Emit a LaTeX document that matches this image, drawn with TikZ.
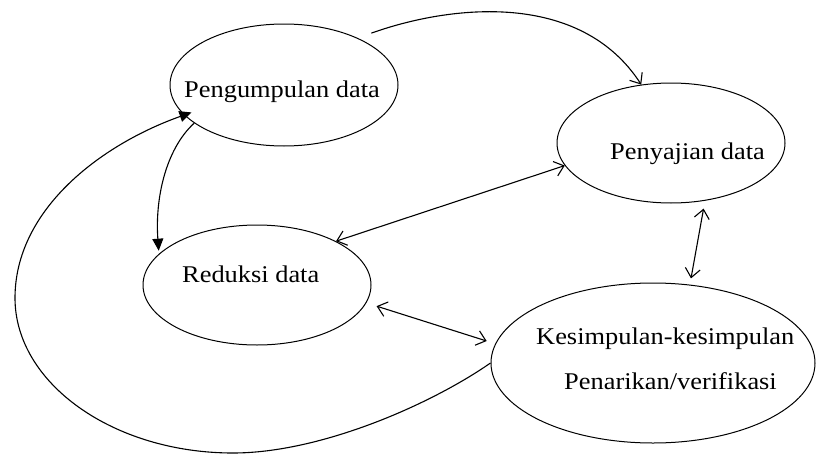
\documentclass[tikz,border=0pt]{standalone}
\usepackage{fontspec}
\setmainfont{Liberation Serif}[FakeStretch=1.1]
\usetikzlibrary{arrows.meta,shapes.geometric}
\tikzset{
  ell/.style={draw, ellipse, line width=1pt, inner sep=0pt},
  lbl/.style={anchor=base west, inner sep=0pt, font=\fontsize{24}{28}\selectfont},
  conn/.style={line width=1.1pt},
  openboth/.style={conn, {Straight Barb[length=9pt,width=15pt]}-{Straight Barb[length=9pt,width=15pt]}},
  openend/.style={conn, -{Straight Barb[length=9pt,width=15pt]}},
  solidend/.style={conn, -{Triangle[length=12pt,width=11pt]}}
}
\begin{document}
\begin{tikzpicture}[x=1pt,y=-1pt]
\fill[white] (0,0) rectangle (816,455);
\useasboundingbox (0,0) rectangle (816,455);

% ellipses
\node[ell, minimum width=228pt, minimum height=122pt] (e1) at (284,85) {};
\node[ell, minimum width=228pt, minimum height=120pt] (e2) at (671,143) {};
\node[ell, minimum width=228pt, minimum height=120pt] (e3) at (257,285) {};
\node[ell, minimum width=324pt, minimum height=160pt] (e4) at (653,363) {};

% labels
\node[lbl] (t1) at (184,97) {Pengumpulan data};
\node[lbl] (t2) at (610,159) {Penyajian data};
\node[lbl] (t3) at (182,282) {Reduksi data};
\node[lbl] (t4a) at (536,344) {Kesimpulan-kesimpulan};
\node[lbl] (t4b) at (564,389) {Penarikan/verifikasi};

% connectors
\draw[openend] ([shift={(11,-6)}]e1.31) .. controls (450,5) and (580,-10) .. (e2.117);
\draw[solidend] (e1.203) .. controls (165,150) and (155,200) .. ([shift={(-4,0)}]e3.160);
\draw[solidend] (e4.180) .. controls (430,405) and (320,453) .. (233,453)
   .. controls (113,453) and (15,383) .. (15,298)
   .. controls (15,210) and (100,145) .. ([shift={(7,-3)}]e1.197);
\draw[openboth] (e3.29) -- (e2.192);
\draw[openboth] ([shift={(11,2)}]e3.-10) -- ([shift={(-10,0)}]e4.172);
\draw[openboth] ([shift={(4,7)}]e2.-64) -- ([shift={(3,-6)}]e4.66);
\end{tikzpicture}
\end{document}
